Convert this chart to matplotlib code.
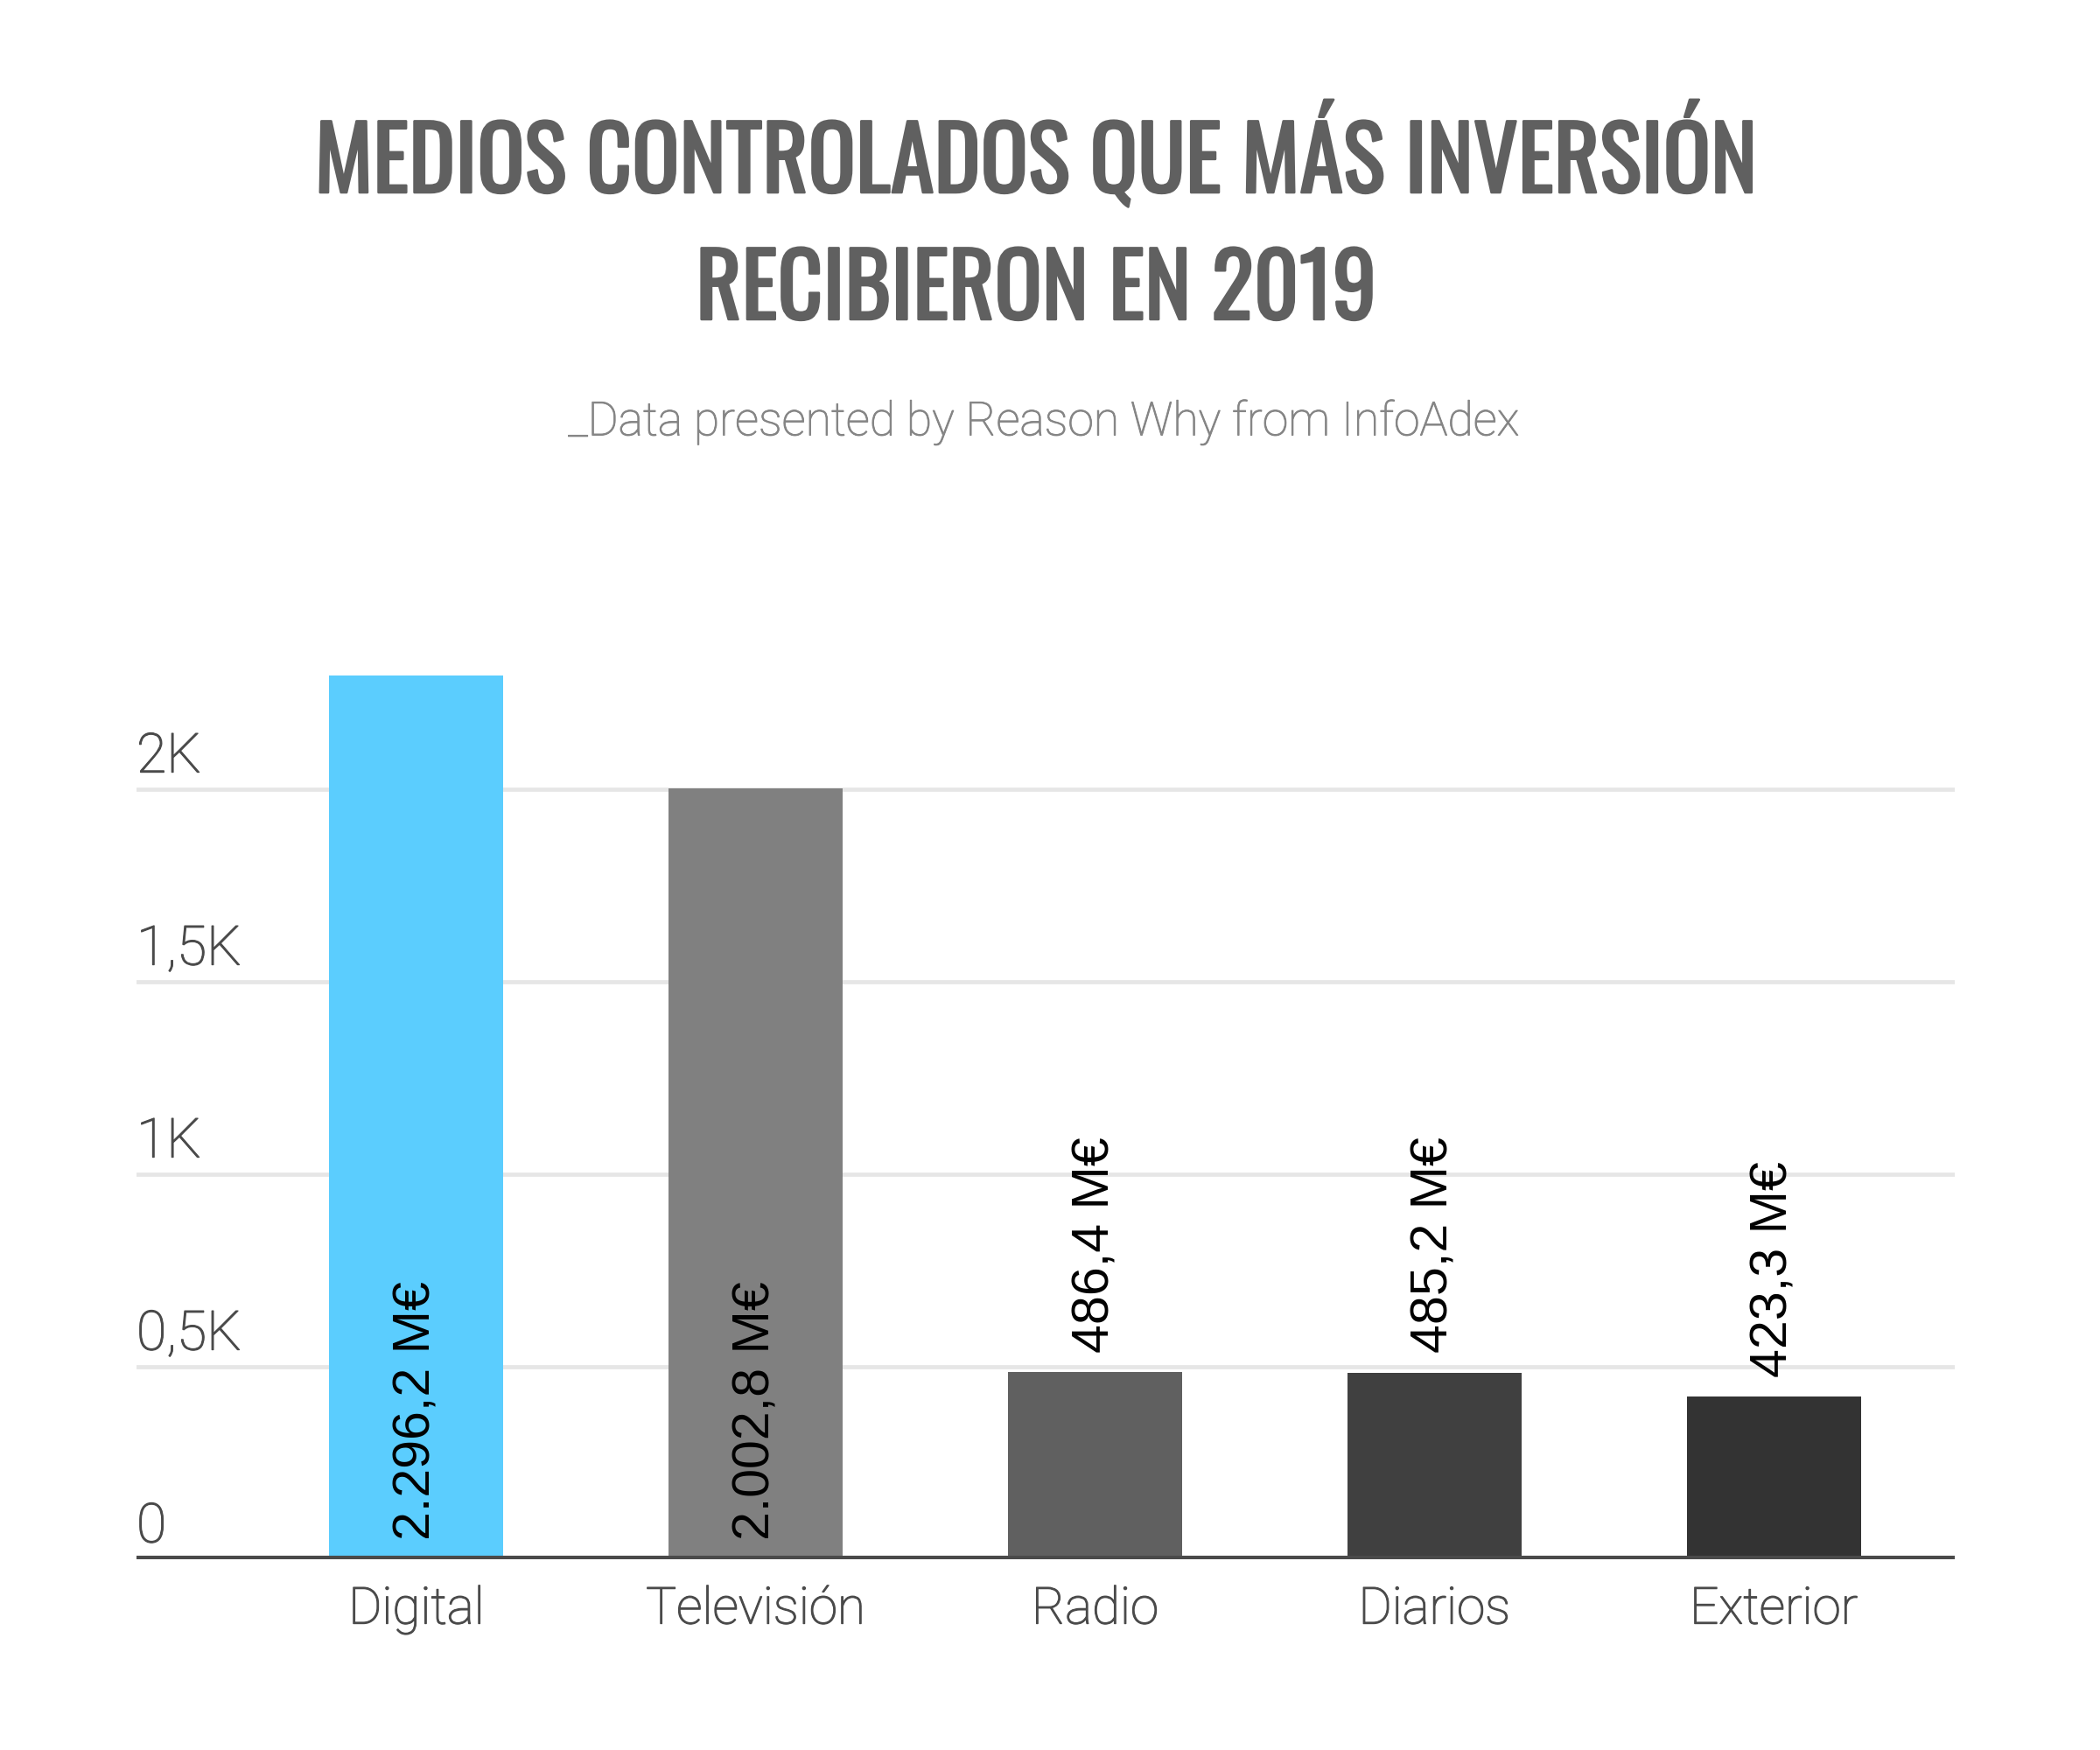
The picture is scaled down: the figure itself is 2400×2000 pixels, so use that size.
import matplotlib
matplotlib.use("Agg")
import matplotlib.pyplot as plt
import matplotlib.transforms as mtransforms
import matplotlib.patheffects as pe
from matplotlib import font_manager

categories = ["Digital", "Televisión", "Radio", "Diarios", "Exterior"]
values = [2296.2, 2002.8, 486.4, 485.2, 423.3]
value_labels = ["2.296,2 M€", "2.002,8 M€", "486,4 M€", "485,2 M€", "423,3 M€"]
bar_colors = ["#5bcdfe", "#808080", "#606060", "#404040", "#333333"]
ytick_vals = [0, 500, 1000, 1500, 2000]
ytick_labels = ["0", "0,5K", "1K", "1,5K", "2K"]

title_lines = ["MEDIOS CONTROLADOS QUE MÁS INVERSIÓN", "RECIBIERON EN 2019"]
subtitle = "_Data presented by Reason Why from InfoAdex"

# condensed face for the title if available (Oswald), otherwise Roboto
names = {f.name for f in font_manager.fontManager.ttflist}
NARROW = "Oswald" if "Oswald" in names else "Roboto"
THIN = dict(family=["Roboto", "DejaVu Sans"], weight="light")
LABEL_C = "#4a4a4a"
# Roboto Light is a touch too thin, so give it a hairline stroke
thick = [pe.withStroke(linewidth=0.45, foreground=LABEL_C)]

fig = plt.figure(figsize=(12, 10), dpi=200)
ax = fig.add_axes([0.065, 0.109, 0.866, 0.528])

x = range(len(categories))
ax.bar(x, values, width=0.513, color=bar_colors, zorder=3)

ax.set_xlim(-0.825, 4.534)
ax.set_ylim(0, 2400)

# grid + baseline
for v in ytick_vals[1:]:
    ax.axhline(v, color="#e6e6e6", lw=1.7, zorder=1)
ax.axhline(0, color="#4a4a4a", lw=3.3, zorder=4)

# y labels sit inside the plot, above their gridline
trans = mtransforms.blended_transform_factory(ax.transAxes, ax.transData)
off = mtransforms.offset_copy(trans, fig=fig, x=0, y=7, units="points")
for v, lab in zip(ytick_vals, ytick_labels):
    ax.text(0, v, lab, transform=off, ha="left", va="baseline", fontsize=22.5,
            color=LABEL_C, path_effects=thick, **THIN)

# value labels: inside base for tall bars, above top for short ones
for i, (v, lab) in enumerate(zip(values, value_labels)):
    base = 0 if v > 1000 else v
    ax.annotate(lab, (i, base), xytext=(0, 8), textcoords="offset points",
                rotation=90, ha="center", va="bottom", fontsize=21.3,
                color="black", family=["Liberation Sans", "DejaVu Sans"])

ax.set_xticks(list(x))
ax.set_xticklabels(categories, fontsize=21, color=LABEL_C, path_effects=thick, **THIN)
ax.tick_params(axis="x", length=0, pad=11)
ax.set_yticks([])
for s in ax.spines.values():
    s.set_visible(False)

# title: scale so the first line spans the reference width, thicken with a stroke
bold = [pe.withStroke(linewidth=0.9, foreground="#606060")]
t1 = fig.text(0.4935, 0.89, title_lines[0], ha="center", va="baseline", fontsize=30,
              fontweight="bold", color="#606060", family=NARROW, path_effects=bold)
t2 = fig.text(0.4935, 0.8175, title_lines[1], ha="center", va="baseline", fontsize=30,
              fontweight="bold", color="#606060", family=NARROW, path_effects=bold)
sub = fig.text(0.497, 0.7513, subtitle, ha="center", va="baseline", fontsize=20,
               color="#858585", path_effects=[pe.withStroke(linewidth=0.35, foreground="#858585")],
               **THIN)

r = fig.canvas.get_renderer()
size = 30 * 1648 / t1.get_window_extent(r).width
t1.set_fontsize(size)
t2.set_fontsize(size)
sub.set_fontsize(20 * 1085 / sub.get_window_extent(r).width)

fig.savefig("out.png", dpi=200, facecolor="white")
